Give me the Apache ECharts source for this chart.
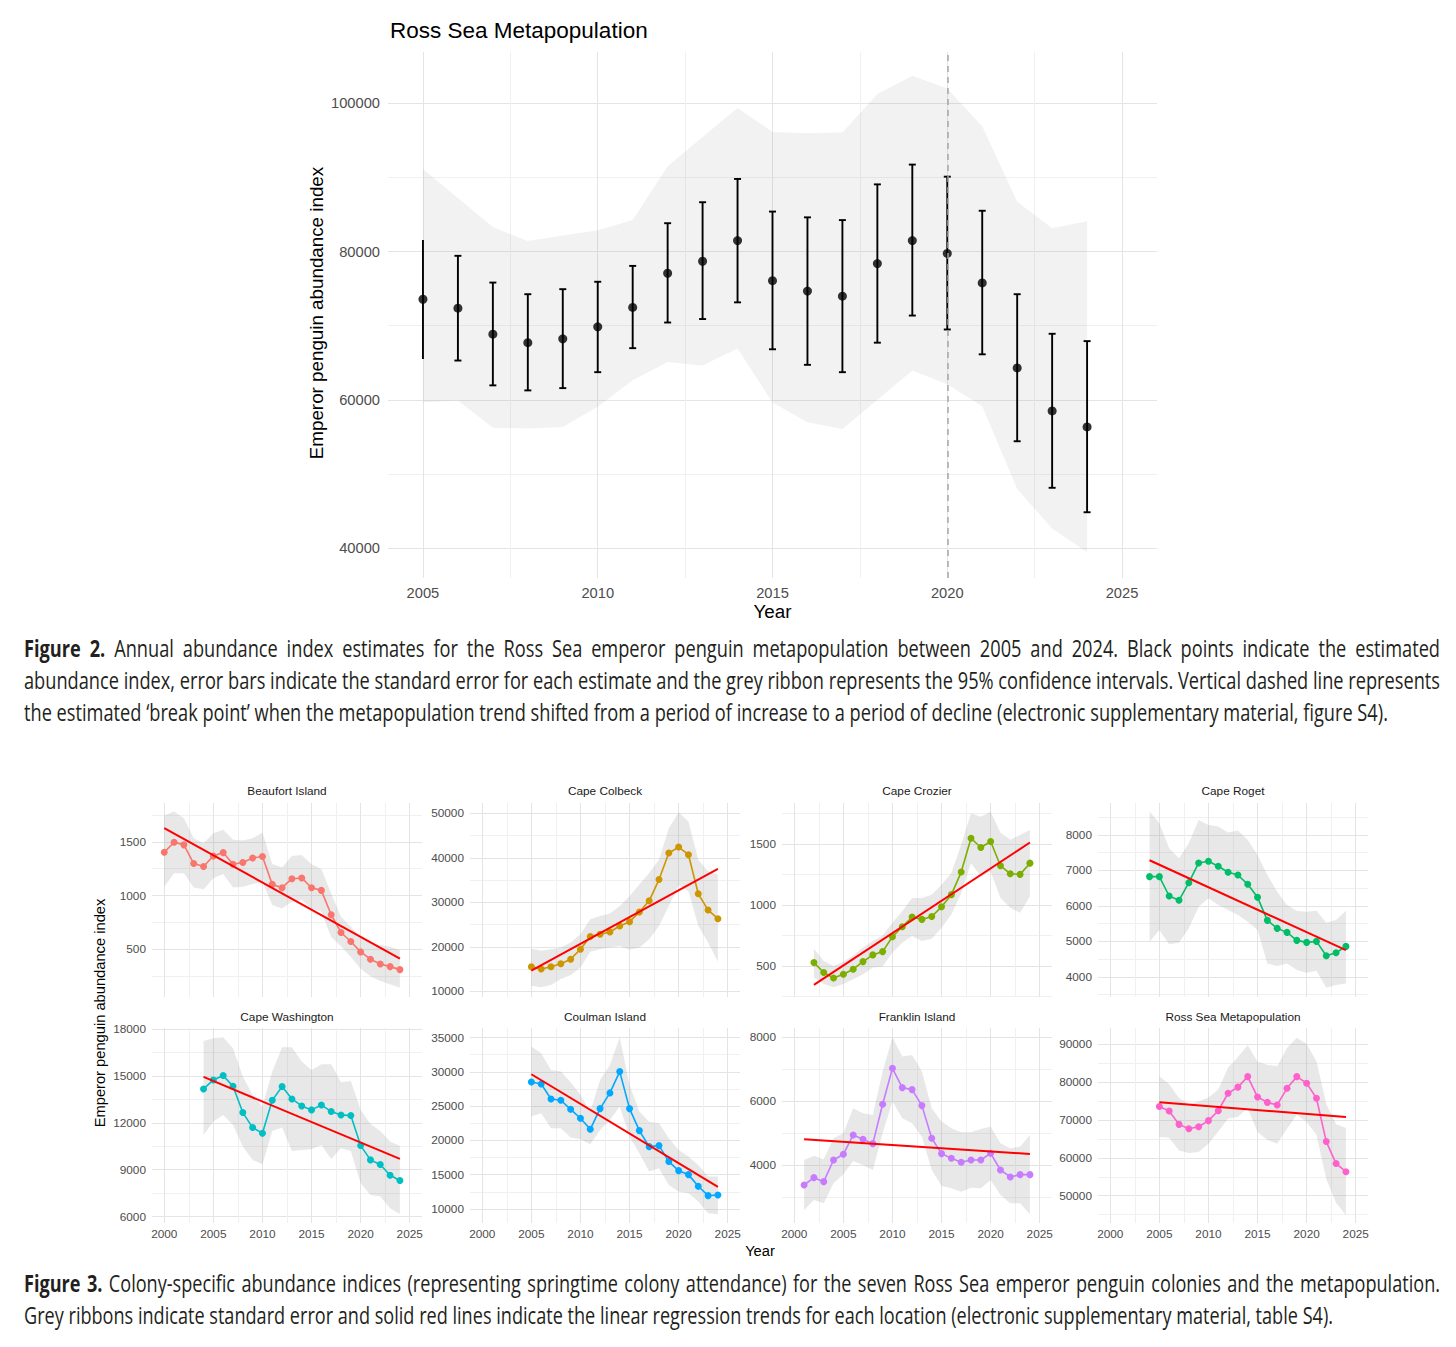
<!DOCTYPE html>
<html>
<head>
<meta charset="utf-8">
<script src="https://cdn.jsdelivr.net/npm/echarts@6/dist/echarts.min.js"></script>
<style>
html,body{margin:0;padding:0;background:#fff;}
#chart{position:absolute;left:0;top:0;width:1456px;height:1347px;}
.cap{position:absolute;left:24px;width:3000px;font-family:'Open Sans','Liberation Sans',Arial,sans-serif;font-size:24px;line-height:32px;color:#231f20;transform-origin:0 0;}
.cap div{white-space:nowrap;text-align:justify;text-align-last:justify;}
.cap div.last{text-align-last:left;}
.cap.measure div{text-align:left;text-align-last:left;}
.cap b{font-weight:700;}
</style>
</head>
<body>
<div id="chart"></div>
<div id="cap2" class="cap measure" style="top:632px">
<div><span><b>Figure 2.</b> Annual abundance index estimates for the Ross Sea emperor penguin metapopulation between 2005 and 2024. Black points indicate the estimated</span></div>
<div><span>abundance index, error bars indicate the standard error for each estimate and the grey ribbon represents the 95% confidence intervals. Vertical dashed line represents</span></div>
<div class="last"><span>the estimated ‘break point’ when the metapopulation trend shifted from a period of increase to a period of decline (electronic supplementary material, figure S4).</span></div>
</div>
<div id="cap3" class="cap measure" style="top:1267px">
<div><span><b>Figure 3.</b> Colony-specific abundance indices (representing springtime colony attendance) for the seven Ross Sea emperor penguin colonies and the metapopulation.</span></div>
<div class="last"><span>Grey ribbons indicate standard error and solid red lines indicate the linear regression trends for each location (electronic supplementary material, table S4).</span></div>
</div>
<script>
// ---------------- DATA ----------------
// Figure 2: Ross Sea metapopulation
const mainYears = [2005,2006,2007,2008,2009,2010,2011,2012,2013,2014,2015,2016,2017,2018,2019,2020,2021,2022,2023,2024];
const mainIndex = [73560,72360,68850,67700,68220,69840,72460,77070,78690,81470,76070,74660,73980,78380,81470,79740,75760,64300,58490,56340];
const mainSeLower = [65500,65290,61940,61260,61570,63720,66960,70420,70890,73140,66810,64710,63720,67700,71360,69480,66130,54400,48120,44820];
const mainSeUpper = [81570,79420,75810,74240,74920,75920,78060,83820,86650,89790,85390,84610,84240,89060,91730,90100,85500,74240,68900,67910];
const mainCiLower = [59630,59900,56230,56130,56340,59060,62620,65080,64610,66910,59630,56970,56070,60000,63930,62100,59110,47960,42620,39420];
const mainCiUpper = [91150,87230,83300,81410,82150,82880,84240,91520,95450,99370,96130,95970,96070,101260,103720,101990,96910,86700,83140,84080];
const breakPointYear = 2020;
const mainXRange = [2004, 2026];
const mainYRange = [35950, 106920];
const mainXGrid = [2005,2007.5,2010,2012.5,2015,2017.5,2020,2022.5,2025];
const mainXLabels = [2005,2010,2015,2020,2025];
const mainYGrid = [40000,50000,60000,70000,80000,90000,100000];
const mainYLabels = [40000,60000,80000,100000];

// Figure 3: colonies
const smallXRange = [1998.75, 2026.25];
const smallXGrid = [2000,2002.5,2005,2007.5,2010,2012.5,2015,2017.5,2020,2022.5,2025];
const smallXLabels = [2000,2005,2010,2015,2020,2025];

const beaufortYears = [2000,2001,2002,2003,2004,2005,2006,2007,2008,2009,2010,2011,2012,2013,2014,2015,2016,2017,2018,2019,2020,2021,2022,2023,2024];
const beaufortIndex = [1403,1497,1472,1298,1270,1369,1400,1291,1307,1350,1363,1104,1073,1157,1164,1073,1048,821,656,572,475,407,363,338,310];
const beaufortLower = [1083,1207,1207,1076,1058,1160,1201,1076,1083,1108,1129,911,880,942,958,880,849,615,528,428,319,248,204,173,142];
const beaufortUpper = [1746,1783,1721,1534,1488,1581,1612,1519,1512,1534,1587,1294,1263,1369,1378,1291,1248,1020,802,709,609,560,538,522,491];
const beaufortTrend = [1628, 413];
const beaufortYRange = [55, 1862];
const beaufortYLabels = [500,1000,1500];
const beaufortYGrid = [250,500,750,1000,1250,1500,1750];

const colbeckYears = [2005,2006,2007,2008,2009,2010,2011,2012,2013,2014,2015,2016,2017,2018,2019,2020,2021,2022,2023,2024];
const colbeckIndex = [15510,14990,15510,16180,17220,19460,22290,22810,23330,24670,25640,27800,30330,35100,41060,42400,40690,31900,28250,26310];
const colbeckLower = [11270,10890,11410,12750,13650,15360,18860,19460,19830,20200,19310,19830,21690,24670,29140,33760,32490,24670,20950,16630];
const colbeckUpper = [19610,19090,19460,19830,20950,22810,26160,26910,27500,29140,31380,33980,36590,39570,46650,50220,48140,39570,36960,36220];
const colbeckTrend = [14620, 37490];
const colbeckYRange = [8720, 52300];
const colbeckYLabels = [10000,20000,30000,40000,50000];
const colbeckYGrid = [10000,15000,20000,25000,30000,35000,40000,45000,50000];

const crozierYears = [2002,2003,2004,2005,2006,2007,2008,2009,2010,2011,2012,2013,2014,2015,2016,2017,2018,2019,2020,2021,2022,2023,2024];
const crozierIndex = [527,446,400,432,473,535,590,617,739,821,900,881,905,984,1084,1269,1546,1470,1519,1321,1255,1250,1342];
const crozierLower = [405,351,324,351,391,432,487,495,609,690,745,704,723,813,921,1098,1342,1234,1274,1057,976,935,1071];
const crozierUpper = [641,541,500,533,587,650,704,750,853,948,1057,1057,1084,1166,1261,1492,1750,1723,1764,1592,1533,1573,1614];
const crozierTrend = [345, 1511];
const crozierYRange = [245, 1835];
const crozierYLabels = [500,1000,1500];
const crozierYGrid = [250,500,750,1000,1250,1500,1750];

const rogetYears = [2004,2005,2006,2007,2008,2009,2010,2011,2012,2013,2014,2015,2016,2017,2018,2019,2020,2021,2022,2023,2024];
const rogetIndex = [6824,6824,6278,6156,6654,7210,7257,7115,6946,6871,6607,6240,5591,5365,5252,5026,4970,4998,4594,4678,4857];
const rogetLower = [4989,5318,4914,4961,5365,5977,6212,6024,5883,5742,5553,5318,4377,4302,4377,4189,4114,4170,3690,3765,3812];
const rogetUpper = [8659,8329,7624,7341,7765,8423,8282,8235,8066,8122,7859,7435,6871,6400,6024,5855,5836,5864,5525,5600,5864];
const rogetTrend = [7285, 4753];
const rogetYRange = [3430, 8900];
const rogetYLabels = [4000,5000,6000,7000,8000];
const rogetYGrid = [3500,4000,4500,5000,5500,6000,6500,7000,7500,8000,8500];

const washingtonYears = [2004,2005,2006,2007,2008,2009,2010,2011,2012,2013,2014,2015,2016,2017,2018,2019,2020,2021,2022,2023,2024];
const washingtonIndex = [14164,14740,15017,14335,12651,11692,11330,13440,14313,13525,13077,12822,13141,12715,12502,12459,10541,9625,9327,8645,8304];
const washingtonLower = [11223,12076,12502,11863,10478,9625,9348,11479,11692,10200,10265,10307,10584,9689,10371,10200,8133,7387,7281,6535,6173];
const washingtonUpper = [17233,17403,17467,16764,14953,13781,13035,15272,16828,16828,15912,15379,15741,15741,14590,14676,12822,11927,11479,10797,10520];
const washingtonTrend = [14931, 9689];
const washingtonYRange = [5590, 18060];
const washingtonYLabels = [6000,9000,12000,15000,18000];
const washingtonYGrid = [6000,7500,9000,10500,12000,13500,15000,16500,18000];

const coulmanYears = [2005,2006,2007,2008,2009,2010,2011,2012,2013,2014,2015,2016,2017,2018,2019,2020,2021,2022,2023,2024];
const coulmanIndex = [28530,28240,26050,25860,24540,23230,21620,24640,26930,30040,24640,21430,19090,19240,16910,15590,15010,13310,11940,12040];
const coulmanLower = [23470,23960,21770,21770,20410,20160,19440,21530,22990,24930,20550,18120,15450,15930,13500,12530,12290,11070,9370,9220];
const coulmanUpper = [33690,32710,30280,30040,28480,26630,24200,28820,31010,35050,28090,24200,22740,22500,20310,18610,17640,16420,14720,14720];
const coulmanTrend = [29650, 13210];
const coulmanYRange = [7950, 36400];
const coulmanYLabels = [10000,15000,20000,25000,30000,35000];
const coulmanYGrid = [10000,12500,15000,17500,20000,22500,25000,27500,30000,32500,35000];

const franklinYears = [2001,2002,2003,2004,2005,2006,2007,2008,2009,2010,2011,2012,2013,2014,2015,2016,2017,2018,2019,2020,2021,2022,2023,2024];
const franklinIndex = [3375,3605,3480,4158,4336,4941,4805,4670,5902,7029,6424,6361,5860,4837,4357,4211,4085,4158,4158,4367,3845,3626,3699,3699];
const franklinLower = [2592,2905,2801,3427,3709,4127,4001,3845,4993,5985,5463,5307,4889,3845,3344,3271,3166,3291,3271,3532,3062,2801,2801,2456];
const franklinUpper = [4158,4294,4179,4837,4993,5776,5620,5568,6925,8000,7395,7447,6925,5776,5359,5150,5025,5025,5129,5202,4680,4524,4576,4941];
const franklinTrend = [4805, 4346];
const franklinYRange = [2185, 8290];
const franklinYLabels = [4000,6000,8000];
const franklinYGrid = [3000,4000,5000,6000,7000,8000];

const rossTrend = [74670, 70800];
const rossYRange = [42780, 94320];
const rossYLabels = [50000,60000,70000,80000,90000];
const rossYGrid = [45000,50000,55000,60000,65000,70000,75000,80000,85000,90000];

// ---------------- BUILD ----------------
const FONT = "'Liberation Sans', Arial, Helvetica, sans-serif";
const MAJOR = '#e4e4e4', MINOR = '#f0f0f0';

const panels = [
  {name:'Beaufort Island', years:beaufortYears, index:beaufortIndex, lower:beaufortLower, upper:beaufortUpper, trend:beaufortTrend, color:'#F8766D', yRange:beaufortYRange, yLabels:beaufortYLabels, yGrid:beaufortYGrid},
  {name:'Cape Colbeck', years:colbeckYears, index:colbeckIndex, lower:colbeckLower, upper:colbeckUpper, trend:colbeckTrend, color:'#CD9600', yRange:colbeckYRange, yLabels:colbeckYLabels, yGrid:colbeckYGrid},
  {name:'Cape Crozier', years:crozierYears, index:crozierIndex, lower:crozierLower, upper:crozierUpper, trend:crozierTrend, color:'#7CAE00', yRange:crozierYRange, yLabels:crozierYLabels, yGrid:crozierYGrid},
  {name:'Cape Roget', years:rogetYears, index:rogetIndex, lower:rogetLower, upper:rogetUpper, trend:rogetTrend, color:'#00BE67', yRange:rogetYRange, yLabels:rogetYLabels, yGrid:rogetYGrid},
  {name:'Cape Washington', years:washingtonYears, index:washingtonIndex, lower:washingtonLower, upper:washingtonUpper, trend:washingtonTrend, color:'#00BFC4', yRange:washingtonYRange, yLabels:washingtonYLabels, yGrid:washingtonYGrid},
  {name:'Coulman Island', years:coulmanYears, index:coulmanIndex, lower:coulmanLower, upper:coulmanUpper, trend:coulmanTrend, color:'#00A9FF', yRange:coulmanYRange, yLabels:coulmanYLabels, yGrid:coulmanYGrid},
  {name:'Franklin Island', years:franklinYears, index:franklinIndex, lower:franklinLower, upper:franklinUpper, trend:franklinTrend, color:'#C77CFF', yRange:franklinYRange, yLabels:franklinYLabels, yGrid:franklinYGrid},
  {name:'Ross Sea Metapopulation', years:mainYears, index:mainIndex, lower:mainSeLower, upper:mainSeUpper, trend:rossTrend, color:'#FF61CC', yRange:rossYRange, yLabels:rossYLabels, yGrid:rossYGrid}
];

function gridColors(gridVals, labelVals){
  return labelVals.indexOf(gridVals[0]) >= 0 ? [MAJOR, MINOR] : [MINOR, MAJOR];
}
function makeAxis(gi, range, gridVals, labelVals, fontSize, margin, showLabels){
  return {
    type:'value', gridIndex:gi, min:range[0], max:range[1], scale:true,
    axisLine:{show:false},
    axisTick:{show:false, customValues:gridVals},
    axisLabel:{show:showLabels, customValues:labelVals, fontSize:fontSize, margin:margin, color:'#4d4d4d', fontFamily:FONT, formatter:function(v){return String(v);}},
    splitLine:{show:true, lineStyle:{color:gridColors(gridVals,labelVals), width:1}},
    minorTick:{show:false}, minorSplitLine:{show:false}
  };
}
function bandSeries(gi, years, lo, hi, fill, extra){
  const s = {
    type:'custom', xAxisIndex:gi, yAxisIndex:gi, silent:true, z:1, clip:false,
    data:[[years[0], lo[0]]],
    renderItem:function(params, api){
      const pts = [];
      for (let i = 0; i < years.length; i++) pts.push(api.coord([years[i], hi[i]]));
      for (let i = years.length - 1; i >= 0; i--) pts.push(api.coord([years[i], lo[i]]));
      return {type:'polygon', shape:{points:pts}, style:{fill:fill}};
    }
  };
  return Object.assign(s, extra || {});
}

const grids = [], xAxes = [], yAxes = [], series = [], graphics = [];

// main chart
grids.push({left:388, top:52, width:769, height:526, outerBoundsMode:'none', containLabel:false});
xAxes.push(makeAxis(0, mainXRange, mainXGrid, mainXLabels, 14.7, 7, true));
yAxes.push(makeAxis(0, mainYRange, mainYGrid, mainYLabels, 14.7, 8, true));
series.push(bandSeries(0, mainYears, mainCiLower, mainCiUpper, 'rgba(150,150,150,0.12)', {
  markLine:{silent:true, symbol:'none', label:{show:false}, animation:false,
    lineStyle:{type:[6,5], color:'#a6a6a6', width:1.5}, data:[{xAxis:breakPointYear}]}
}));
series.push({
  type:'custom', xAxisIndex:0, yAxisIndex:0, z:3, silent:true,
  data: mainYears.map(function(y,i){ return [y, mainSeLower[i], mainSeUpper[i]]; }),
  encode:{x:0, y:[1,2]},
  renderItem:function(params, api){
    const x = api.value(0);
    const pLo = api.coord([x, api.value(1)]);
    const pHi = api.coord([x, api.value(2)]);
    const half = api.size([0.1, 0])[0];
    const st = {stroke:'#000', lineWidth:1.9};
    const ch = [{type:'line', shape:{x1:pLo[0], y1:pLo[1], x2:pHi[0], y2:pHi[1]}, style:st}];
    if (params.dataIndex > 0) {
      ch.push({type:'line', shape:{x1:pLo[0]-half, y1:pLo[1], x2:pLo[0]+half, y2:pLo[1]}, style:st});
      ch.push({type:'line', shape:{x1:pHi[0]-half, y1:pHi[1], x2:pHi[0]+half, y2:pHi[1]}, style:st});
    }
    return {type:'group', children:ch};
  }
});
series.push({
  type:'scatter', xAxisIndex:0, yAxisIndex:0, z:4, silent:true,
  symbol:'circle', symbolSize:9, itemStyle:{color:'#000'},
  data: mainYears.map(function(y,i){ return [y, mainIndex[i]]; })
});

graphics.push({type:'text', x:390, y:30, silent:true, style:{text:'Ross Sea Metapopulation', fontSize:22.5, fontFamily:FONT, fill:'#000', align:'left', verticalAlign:'middle', textAlign:'left', textVerticalAlign:'middle'}});
graphics.push({type:'text', x:316, y:313, rotation:Math.PI/2, silent:true, style:{text:'Emperor penguin abundance index', fontSize:18.8, fontFamily:FONT, fill:'#000', align:'center', verticalAlign:'middle', textAlign:'center', textVerticalAlign:'middle'}});
graphics.push({type:'text', x:772.5, y:611, silent:true, style:{text:'Year', fontSize:18.8, fontFamily:FONT, fill:'#000', align:'center', verticalAlign:'middle', textAlign:'center', textVerticalAlign:'middle'}});

// small multiples
const colLeft = [152, 470, 782, 1098];
const rowTop = [803, 1028];
const rowHeight = [194, 195];
const panelWidth = 270;
const stripY = [791, 1017];

panels.forEach(function(p, k){
  const gi = k + 1;
  const col = k % 4, row = Math.floor(k / 4);
  grids.push({left:colLeft[col], top:rowTop[row], width:panelWidth, height:rowHeight[row], outerBoundsMode:'none', containLabel:false});
  xAxes.push(makeAxis(gi, smallXRange, smallXGrid, smallXLabels, 11.8, 5, row === 1));
  yAxes.push(makeAxis(gi, p.yRange, p.yGrid, p.yLabels, 11.8, 6, true));
  series.push(bandSeries(gi, p.years, p.lower, p.upper, 'rgba(150,150,150,0.22)'));
  series.push({
    type:'line', xAxisIndex:gi, yAxisIndex:gi, z:2, silent:true,
    symbol:'circle', symbolSize:7, showSymbol:true,
    itemStyle:{color:p.color}, lineStyle:{color:p.color, width:1.6},
    data: p.years.map(function(y,i){ return [y, p.index[i]]; })
  });
  series.push({
    type:'line', xAxisIndex:gi, yAxisIndex:gi, z:3, silent:true,
    symbol:'none', lineStyle:{color:'#FF0000', width:2},
    data: [[p.years[0], p.trend[0]], [p.years[p.years.length-1], p.trend[1]]]
  });
  graphics.push({type:'text', x:colLeft[col] + panelWidth/2, y:stripY[row], silent:true,
    style:{text:p.name, fontSize:11.8, fontFamily:FONT, fill:'#1a1a1a', align:'center', verticalAlign:'middle', textAlign:'center', textVerticalAlign:'middle'}});
});
graphics.push({type:'text', x:100, y:1013, rotation:Math.PI/2, silent:true, style:{text:'Emperor penguin abundance index', fontSize:14.7, fontFamily:FONT, fill:'#000', align:'center', verticalAlign:'middle', textAlign:'center', textVerticalAlign:'middle'}});
graphics.push({type:'text', x:760, y:1251, silent:true, style:{text:'Year', fontSize:14.7, fontFamily:FONT, fill:'#000', align:'center', verticalAlign:'middle', textAlign:'center', textVerticalAlign:'middle'}});

const chart = echarts.init(document.getElementById('chart'), null, {renderer:'svg', width:1456, height:1347});
chart.setOption({
  animation:false,
  backgroundColor:'#fff',
  grid:grids, xAxis:xAxes, yAxis:yAxes, series:series, graphic:graphics
});

// ---------------- CAPTIONS ----------------
function fitCaption(id, lastWidth, fullWidth){
  const box = document.getElementById(id);
  const spans = box.querySelectorAll('span');
  let wLast = 0, wMax = 0;
  spans.forEach(function(sp){
    const w = sp.getBoundingClientRect().width;
    if (sp.parentNode.classList.contains('last')) wLast = w; else wMax = Math.max(wMax, w);
  });
  let s = lastWidth / wLast;
  if (wMax * s > fullWidth) s = fullWidth / wMax;
  box.classList.remove('measure');
  box.style.width = (fullWidth / s) + 'px';
  box.style.transform = 'scaleX(' + s + ')';
}
fitCaption('cap2', 1368, 1416);
fitCaption('cap3', 1309, 1416);
</script>
</body>
</html>
